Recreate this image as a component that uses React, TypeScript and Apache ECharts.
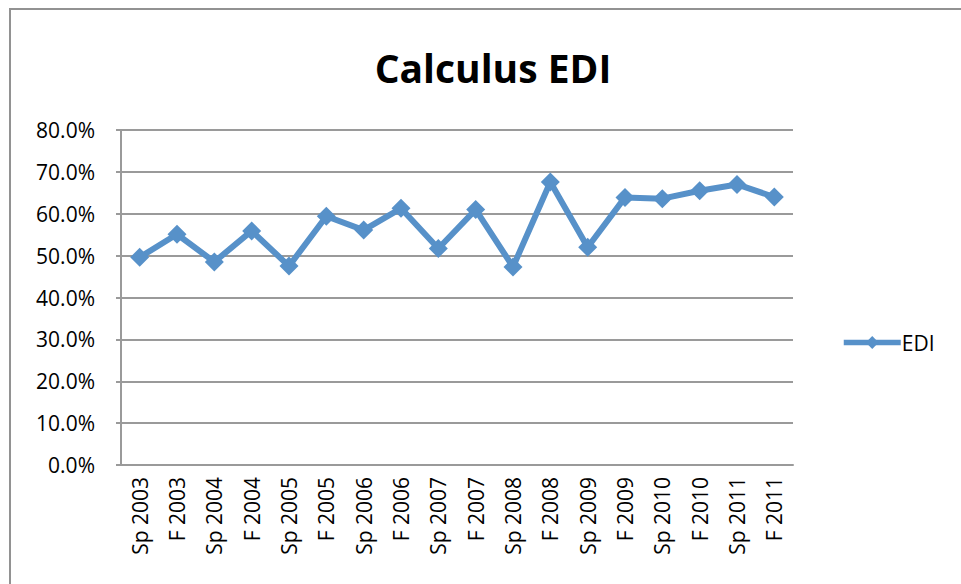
import React, { useEffect, useRef } from "react";
import * as echarts from "echarts";

const categories = [
  "Sp 2003", "F 2003", "Sp 2004", "F 2004", "Sp 2005", "F 2005",
  "Sp 2006", "F 2006", "Sp 2007", "F 2007", "Sp 2008", "F 2008",
  "Sp 2009", "F 2009", "Sp 2010", "F 2010", "Sp 2011", "F 2011",
];

const ediValues = [
  0.496, 0.551, 0.485, 0.559, 0.475, 0.594,
  0.561, 0.613, 0.517, 0.610, 0.473, 0.676,
  0.520, 0.639, 0.636, 0.655, 0.670, 0.640,
];

const seriesName = "EDI";
const chartTitle = "Calculus EDI";

export default function App() {
  const ref = useRef<HTMLDivElement>(null);

  useEffect(() => {
    if (!ref.current) return;
    const chart = echarts.init(ref.current, null, { renderer: "svg" });
    const font = "'Open Sans', 'Noto Sans', sans-serif";
    const gray = "#9a9a9a";
    const blue = "#5791c9";
    chart.setOption({
      animation: false,
      backgroundColor: "#ffffff",
      title: {
        text: chartTitle,
        left: 488,
        textAlign: "center",
        top: 43,
        textStyle: { fontFamily: font, fontSize: 39, fontWeight: "bold", color: "#000" },
      },
      graphic: [
        {
          type: "rect",
          shape: { x: 10, y: 9, width: 1200, height: 900 },
          style: { fill: "none", stroke: "#929292", lineWidth: 2 },
          silent: true,
        },
      ],
      legend: {
        left: 836,
        top: 327,
        itemWidth: 57,
        itemHeight: 16,
        itemGap: 0,
        lineStyle: { width: 5.5 },
        textStyle: { fontFamily: font, fontSize: 21, color: "#000", padding: [0, 0, 0, -4] },
        data: [seriesName],
      },
      grid: { left: 121, right: 168, top: 130, bottom: 119, containLabel: false },
      xAxis: {
        type: "category",
        data: categories,
        boundaryGap: true,
        axisLine: { lineStyle: { color: gray, width: 2 } },
        axisTick: { show: false },
        axisLabel: {
          rotate: 90,
          fontFamily: font,
          fontSize: 21,
          color: "#000",
          margin: 12,
          interval: 0,
        },
      },
      yAxis: {
        type: "value",
        min: 0,
        max: 0.8,
        interval: 0.1,
        axisLine: { show: true, lineStyle: { color: gray, width: 2 } },
        axisTick: { show: true, length: 5, lineStyle: { color: gray, width: 2 } },
        splitLine: { lineStyle: { color: gray, width: 2 } },
        axisLabel: {
          fontFamily: font,
          fontSize: 21,
          color: "#000",
          margin: 26,
          formatter: (v: number) => (v * 100).toFixed(1) + "%",
        },
      },
      series: [
        {
          name: seriesName,
          type: "line",
          data: ediValues,
          symbol: "diamond",
          symbolSize: 19,
          itemStyle: { color: blue },
          lineStyle: { color: blue, width: 6 },
        },
      ],
    });
    return () => chart.dispose();
  }, []);

  return (
    <div
      ref={ref}
      style={{ position: "fixed", left: 0, top: 0, width: 961, height: 584 }}
    />
  );
}
